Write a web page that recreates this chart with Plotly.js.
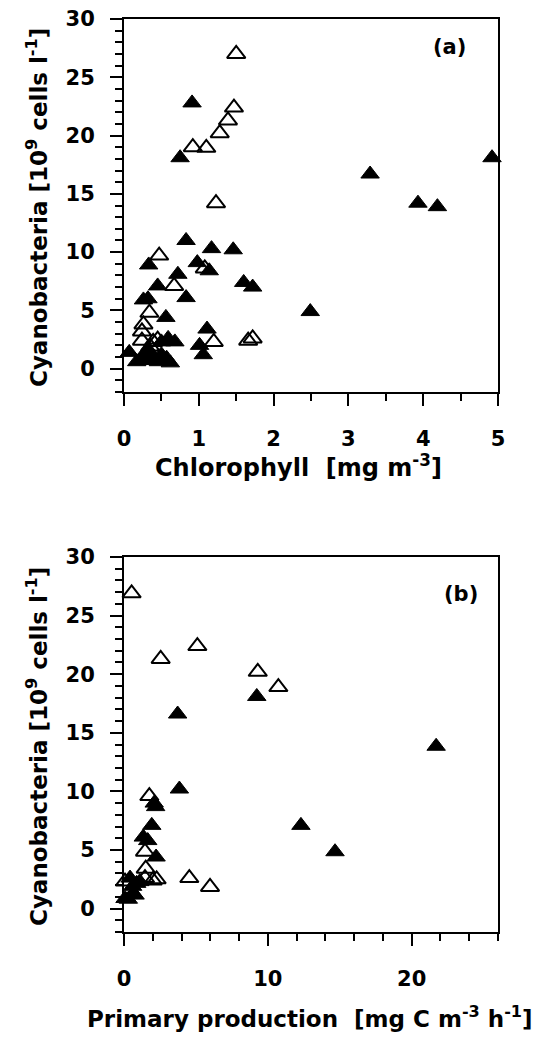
<!DOCTYPE html>
<html>
<head>
<meta charset="utf-8">
<script src="https://cdn.plot.ly/plotly-3.0.1.min.js"></script>
<style>
html,body{margin:0;padding:0;background:#fff;}
#chart{width:535px;height:1040px;}
#chart .xaxislayer-above text, #chart .yaxislayer-above text, #chart .xtick text, #chart .ytick text, #chart .x2tick text, #chart .y2tick text{font-weight:700 !important;}
</style>
</head>
<body>
<div id="chart"></div>
<script>
// Panel (a): Chlorophyll [mg m-3] vs Cyanobacteria [10^9 cells l-1]
const chlFilledX = [0.91,0.75,4.92,3.29,3.93,4.19,2.49,0.83,1.17,1.46,0.33,0.98,1.14,0.72,1.60,1.72,0.45,0.83,0.26,0.32,0.56,1.11,1.01,1.06,0.07,0.59,0.68,0.50,0.17,0.28,0.39,0.50,0.57,0.46,0.35,0.33,0.62,0.25];
const chlFilledY = [22.8,18.1,18.1,16.7,14.2,13.9,4.9,11.0,10.3,10.2,8.9,9.1,8.4,8.1,7.4,7.0,7.1,6.1,5.9,6.0,4.4,3.4,2.0,1.2,1.4,2.6,2.3,2.3,0.6,0.7,0.9,1.2,0.9,0.6,1.3,1.6,0.5,1.1];
const chlOpenX = [1.50,1.47,1.39,1.28,0.92,1.10,1.23,0.47,1.08,0.67,0.34,0.26,0.24,0.24,1.20,1.66,1.72,0.39,0.35,0.45];
const chlOpenY = [27.0,22.4,21.3,20.2,19.0,18.95,14.2,9.7,8.6,7.1,4.8,3.8,3.2,2.4,2.3,2.4,2.6,2.3,1.9,2.5];

// Panel (b): Primary production [mg C m-3 h-1] vs Cyanobacteria
const ppFilledX = [9.23,3.73,21.7,12.3,14.67,3.85,2.1,2.2,1.93,1.34,1.65,2.23,0.42,0.88,0.6,0.65,0.07,0.3,0.77,1.1];
const ppFilledY = [18.1,16.6,13.85,7.1,4.85,10.2,9.0,8.7,7.1,6.1,5.8,4.4,2.6,2.15,1.9,1.3,0.86,0.8,1.15,2.3];
const ppOpenX = [0.53,5.1,2.55,9.3,10.73,1.76,1.46,1.51,1.46,2.0,2.27,4.54,5.98,0.07];
const ppOpenY = [26.9,22.4,21.3,20.2,18.9,9.6,4.85,3.4,2.6,2.4,2.5,2.6,1.85,2.3];

// Tick labels
const yTickVals = [0,5,10,15,20,25,30];
const xTickValsA = [0,1,2,3,4,5];
const xTickValsB = [0,10,20];

const FONT = 'DejaVu Sans, Liberation Sans, Arial, sans-serif';
const MS = 16;
const bold = v => '<b>' + v + '</b>';

function filled(x, y, xa, ya) {
  return {x:x, y:y, xaxis:xa, yaxis:ya, type:'scatter', mode:'markers', cliponaxis:false, showlegend:false,
    marker:{symbol:'triangle-up', size:MS, color:'black', line:{color:'black', width:1}}};
}
function open(x, y, xa, ya) {
  return {x:x, y:y, xaxis:xa, yaxis:ya, type:'scatter', mode:'markers', cliponaxis:false, showlegend:false,
    marker:{symbol:'triangle-up-open', size:MS, color:'black', line:{color:'black', width:2}}};
}

const data = [
  open(chlOpenX, chlOpenY, 'x', 'y'),
  filled(chlFilledX, chlFilledY, 'x', 'y'),
  open(ppOpenX, ppOpenY, 'x2', 'y2'),
  filled(ppFilledX, ppFilledY, 'x2', 'y2')
];

const L = 124, R = 37, T = 19, B = 108, W = 535, H = 1040;
const PW = W - L - R, PH = H - T - B;
const px = v => (v - L) / PW;
const py = v => (H - B - v) / PH;

function minorTicks(dt) {
  return {ticks:'outside', ticklen:7, tickwidth:2, tickcolor:'black', showgrid:false, dtick:dt, tick0:0};
}
function axis(extra) {
  return Object.assign({
    showline:true, linewidth:2, linecolor:'black', mirror:true,
    ticks:'outside', ticklen:12, tickwidth:2, tickcolor:'black',
    showgrid:false, zeroline:false, fixedrange:true,
    tickfont:{family:FONT, size:21, color:'black', weight:700}
  }, extra);
}

const titleFont = {family:FONT, size:23, color:'black', weight:700};
const labelFont = {family:FONT, size:21, color:'black', weight:700};

const layout = {
  width:W, height:H,
  margin:{l:L, r:R, t:T, b:B, pad:0},
  paper_bgcolor:'white', plot_bgcolor:'white',
  showlegend:false,
  xaxis: axis({anchor:'y', domain:[0,1], range:[0,5], tickmode:'array', tickvals:xTickValsA, ticktext:xTickValsA.map(bold), ticklabelstandoff:15, minor:minorTicks(0.5)}),
  yaxis: axis({anchor:'x', domain:[540/913,1], range:[-2,30], tickmode:'array', tickvals:yTickVals, ticktext:yTickVals.map(bold), ticklabelstandoff:11, minor:minorTicks(1)}),
  xaxis2: axis({anchor:'y2', domain:[0,1], range:[0,26], tickmode:'array', tickvals:xTickValsB, ticktext:xTickValsB.map(bold), ticklabelstandoff:15, minor:minorTicks(2)}),
  yaxis2: axis({anchor:'x2', domain:[0,375/913], range:[-2,30], tickmode:'array', tickvals:yTickVals, ticktext:yTickVals.map(bold), ticklabelstandoff:11, minor:minorTicks(1)}),
  annotations:[
    {text:'<b>Cyanobacteria [10<sup>9</sup> cells l<sup>-1</sup>]</b>', textangle:-90, xref:'paper', yref:'paper', x:px(37), y:py(208), xanchor:'center', yanchor:'middle', showarrow:false, font:titleFont},
    {text:'<b>Cyanobacteria [10<sup>9</sup> cells l<sup>-1</sup>]</b>', textangle:-90, xref:'paper', yref:'paper', x:px(37), y:py(747), xanchor:'center', yanchor:'middle', showarrow:false, font:titleFont},
    {text:'<b>Chlorophyll\u00A0 [mg m<sup>-3</sup>]</b>', xref:'paper', yref:'paper', x:px(298), y:py(466), xanchor:'center', yanchor:'middle', showarrow:false, font:{family:FONT, size:24, color:'black', weight:700}},
    {text:'<b>Primary production\u00A0 [mg C m<sup>-3</sup> h<sup>-1</sup>]</b>', xref:'paper', yref:'paper', x:px(310), y:py(1017), xanchor:'center', yanchor:'middle', showarrow:false, font:titleFont},
    {text:'<b>(a)</b>', xref:'paper', yref:'paper', x:px(449), y:py(47), xanchor:'center', yanchor:'middle', showarrow:false, font:labelFont},
    {text:'<b>(b)</b>', xref:'paper', yref:'paper', x:px(461), y:py(594), xanchor:'center', yanchor:'middle', showarrow:false, font:labelFont}
  ]
};

Plotly.newPlot('chart', data, layout, {displayModeBar:false, staticPlot:true});
</script>
</body>
</html>
